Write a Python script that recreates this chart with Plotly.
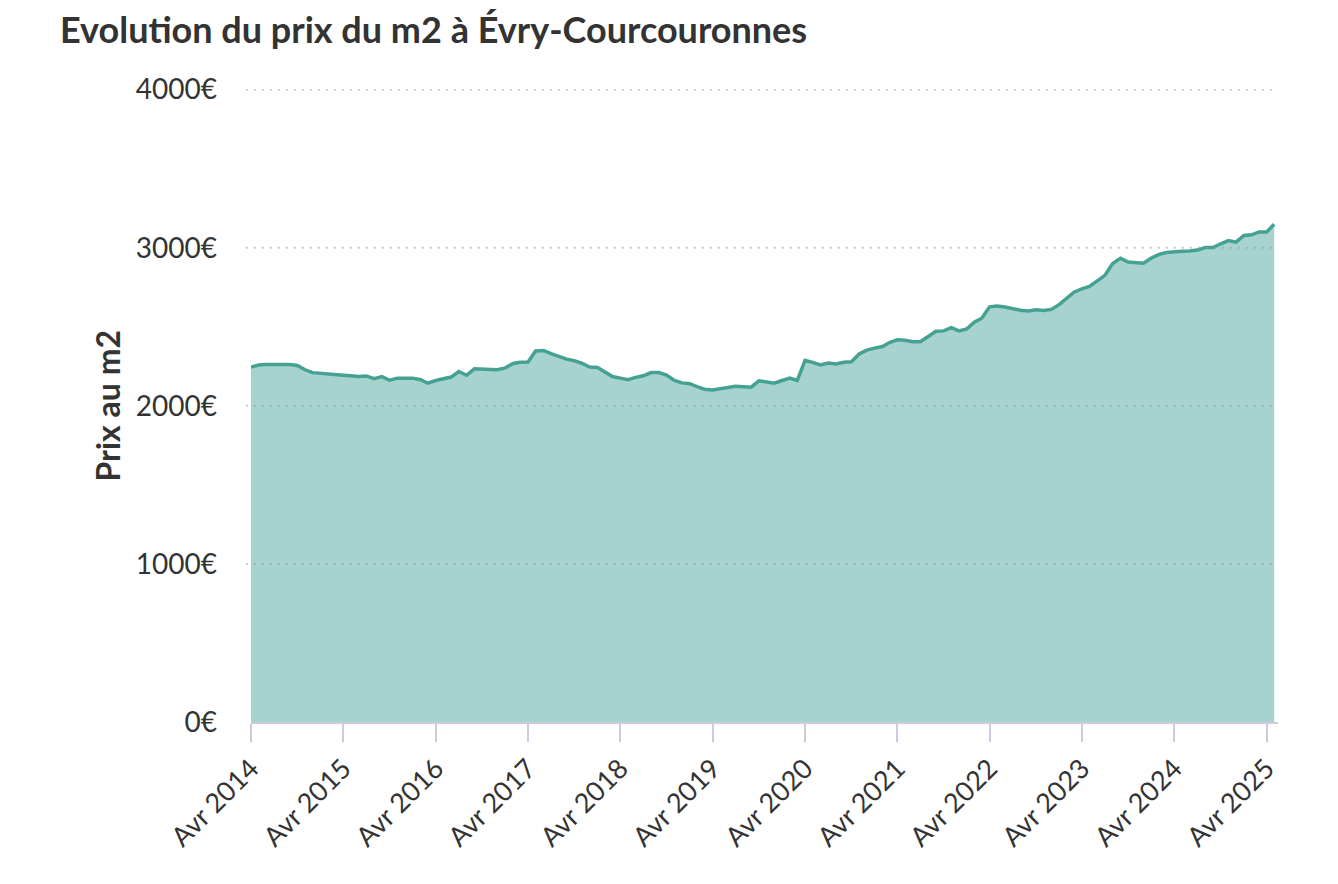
import plotly.graph_objects as go
import pandas as pd

title_text = "Evolution du prix du m2 à Évry-Courcouronnes"
y_title = "Prix au m2"

start_month = "2014-04-01"
prices = [
    2245, 2258, 2262, 2262, 2262, 2262, 2255, 2228, 2210, 2205, 2198, 2195,
    2194, 2190, 2185, 2189, 2172, 2185, 2162, 2175, 2175, 2175, 2165, 2143,
    2160, 2172, 2182, 2217, 2193, 2235, 2232, 2230, 2228, 2240, 2268, 2275,
    2277, 2347, 2350, 2330, 2310, 2295, 2285, 2268, 2245, 2243, 2212, 2185,
    2175, 2165, 2180, 2190, 2210, 2210, 2195, 2160, 2145, 2140, 2120, 2105,
    2100, 2108, 2113, 2123, 2120, 2118, 2158, 2150, 2143, 2160, 2176, 2160,
    2287, 2275, 2259, 2270, 2265, 2276, 2278, 2328, 2352, 2365, 2375, 2400,
    2418, 2415, 2405, 2405, 2440, 2472, 2474, 2495, 2474, 2487, 2530, 2554,
    2626, 2632, 2625, 2615, 2605, 2600, 2607, 2603, 2610, 2640, 2680, 2719,
    2740, 2755, 2790, 2825, 2900, 2934, 2910, 2905, 2902, 2935, 2958, 2970,
    2976, 2978, 2980, 2985, 3001, 3001, 3025, 3045, 3035, 3078, 3082, 3100,
    3099, 3149,
]
dates = pd.date_range(start_month, periods=len(prices), freq="MS")

tick_years = list(range(2014, 2026))
tick_vals = [f"{y}-04-01" for y in tick_years]
tick_text = [f"Avr {y}" for y in tick_years]

y_tick_vals = [0, 1000, 2000, 3000, 4000]
y_tick_text = [f"{v}€" for v in y_tick_vals]

line_color = "#45a192"
fill_color = "#a7d3cf"
text_color = "#333333"
axis_color = "#c9ccda"
grid_color = "rgba(150,150,150,0.5)"

fig = go.Figure()
fig.add_trace(go.Scatter(
    x=dates, y=prices, mode="lines",
    line=dict(color=line_color, width=3.5),
    fill="tozeroy", fillcolor=fill_color,
    hoverinfo="x+y",
))

W, H = 1338, 884
L, R, T, B = 243, 68, 81, 170

grid_shapes = [
    dict(type="line", xref="paper", yref="y", x0=-0.005, x1=0.997,
         y0=v, y1=v, layer="above",
         line=dict(color=grid_color, width=2, dash="2px,6px"))
    for v in y_tick_vals[1:]
]

fig.update_layout(
    width=W, height=H,
    margin=dict(l=L, r=R, t=T, b=B, autoexpand=False),
    paper_bgcolor="white", plot_bgcolor="white",
    font=dict(family="Lato", color=text_color),
    showlegend=False,
    title=dict(
        text=f"<b>{title_text}</b>",
        x=52 / W, xref="container", xanchor="left",
        y=1 - 22 / H, yref="container", yanchor="middle",
        font=dict(size=36, color=text_color, family="Lato"),
    ),
    xaxis=dict(
        type="date",
        range=["2014-04-01", "2025-05-16"],
        tickvals=tick_vals, ticktext=tick_text,
        tickangle=-45,
        tickfont=dict(size=27, color=text_color),
        ticks="outside", ticklen=18, tickwidth=2, tickcolor=axis_color,
        showline=True, linecolor=axis_color, linewidth=2,
        showgrid=False, zeroline=False,
    ),
    yaxis=dict(
        range=[0, 4004],
        tickvals=y_tick_vals, ticktext=y_tick_text,
        tickfont=dict(size=28, color=text_color),
        ticklabelstandoff=33,
        showgrid=False,
        showline=False, zeroline=False,
    ),
    shapes=grid_shapes,
    annotations=[dict(
        text=f"<b>{y_title}</b>",
        xref="paper", yref="paper",
        x=(99 - L) / (W - L - R), y=0.5,
        xanchor="center", yanchor="middle",
        textangle=-90, showarrow=False,
        font=dict(size=32, color=text_color, family="Lato"),
    )],
)

fig.write_html("out.html")
